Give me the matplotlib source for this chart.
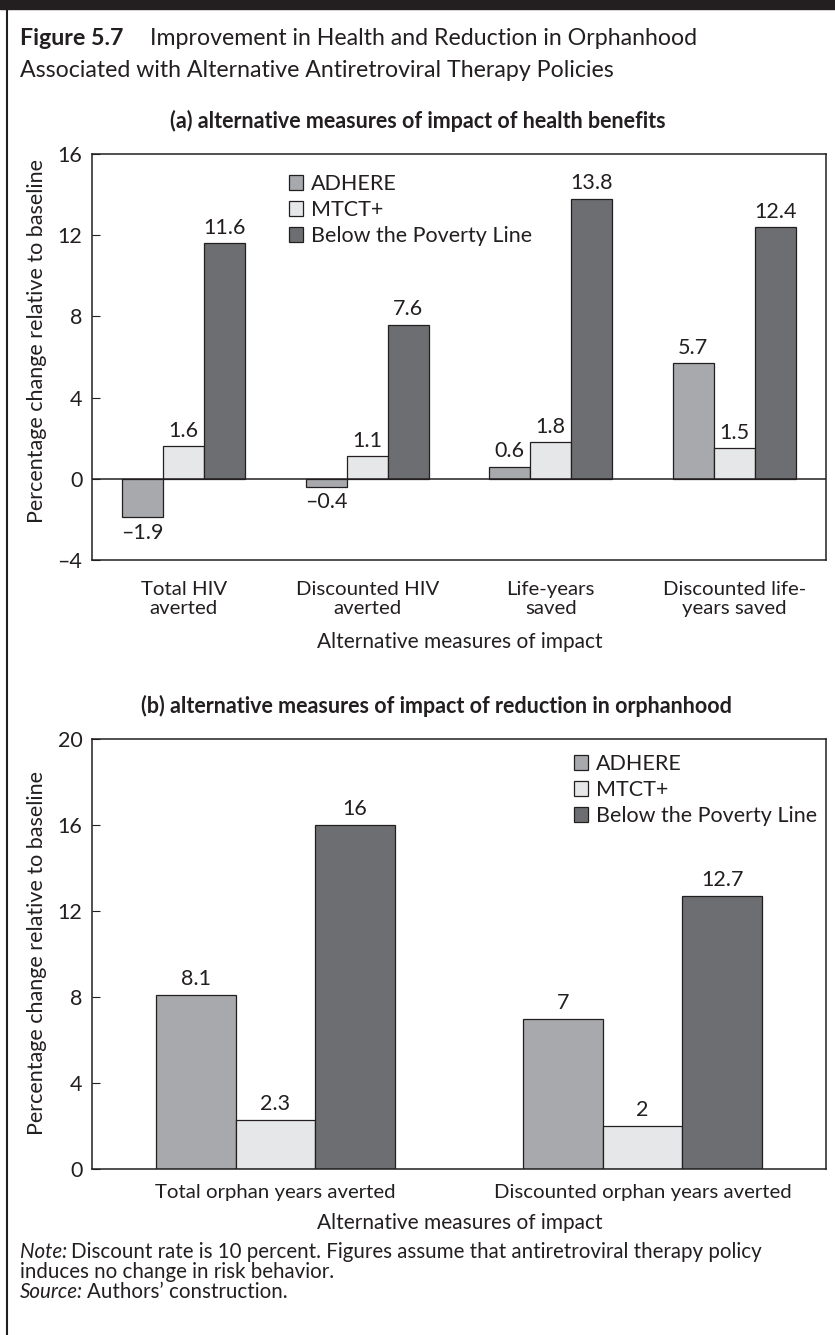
import numpy as np
import matplotlib
matplotlib.use("Agg")
import matplotlib.pyplot as plt
from matplotlib.patches import Rectangle
from matplotlib.lines import Line2D

plt.rcParams['font.family'] = ['Lato', 'DejaVu Sans']

series = ["ADHERE", "MTCT+", "Below the Poverty Line"]
colors = ["#a7a9ac", "#e6e7e8", "#6d6e71"]
ink = "#231f20"

# panel (a): health benefits
cats_a = ["Total HIV\naverted", "Discounted HIV\naverted", "Life-years\nsaved",
          "Discounted life-\nyears saved"]
adhere_a = [-1.9, -0.4, 0.6, 5.7]
mtct_a = [1.6, 1.1, 1.8, 1.5]
poverty_a = [11.6, 7.6, 13.8, 12.4]
yticks_a = [-4, 0, 4, 8, 12, 16]

# panel (b): reduction in orphanhood
cats_b = ["Total orphan years averted", "Discounted orphan years averted"]
adhere_b = [8.1, 7]
mtct_b = [2.3, 2]
poverty_b = [16, 12.7]
yticks_b = [0, 4, 8, 12, 16, 20]

W, H = 835, 1335
fig = plt.figure(figsize=(W / 100, H / 100), dpi=100)


def fx(x):
    return x / W


def fy(y):
    return 1 - y / H


def fmt(v):
    return ("%g" % v).replace("-", "\u2013")


def draw_panel(ax, cats, vals, yticks, width, leg_anchor, xpad):
    x = np.arange(len(cats))
    for i, v in enumerate(vals):
        bars = ax.bar(x + (i - 1) * width, v, width, color=colors[i], edgecolor=ink,
                      linewidth=0.9, label=series[i], zorder=2)
        ax.bar_label(bars, labels=[fmt(b) for b in v], padding=4, fontsize=15.5, color=ink)
    ax.set_xlim(-0.5, len(cats) - 0.5)
    ax.set_ylim(yticks[0], yticks[-1])
    ax.set_yticks(yticks)
    ax.set_yticklabels([fmt(t) for t in yticks])
    ax.set_xticks(x)
    ax.set_xticklabels(cats, linespacing=1.15)
    ax.tick_params(axis='y', direction='in', length=6, color=ink, labelsize=15.5,
                   labelcolor=ink, pad=7)
    ax.tick_params(axis='x', length=0, labelsize=14.7, labelcolor=ink, pad=xpad)
    for s in ax.spines.values():
        s.set_color(ink)
        s.set_linewidth(1.1)
    leg = ax.legend(loc='upper left', bbox_to_anchor=leg_anchor, frameon=False,
                    fontsize=15.5, handlelength=0.65, handleheight=0.65,
                    handletextpad=0.35, labelspacing=0.28, borderaxespad=0,
                    borderpad=0)
    for t in leg.get_texts():
        t.set_color(ink)


# panel (a)
ax1 = fig.add_axes([fx(92), fy(560), (826 - 92) / W, (560 - 154) / H])
draw_panel(ax1, cats_a, [adhere_a, mtct_a, poverty_a], yticks_a, 0.223,
           (0.269, 0.951), 15)
ax1.axhline(0, color=ink, linewidth=1.1, zorder=3)

# panel (b)
ax2 = fig.add_axes([fx(92), fy(1169), (826 - 92) / W, (1169 - 739) / H])
draw_panel(ax2, cats_b, [adhere_b, mtct_b, poverty_b], yticks_b, 0.217,
           (0.657, 0.965), 11)

# axis titles
fig.text(fx(460), fy(642), "Alternative measures of impact", ha='center', va='center',
         fontsize=15, color=ink)
fig.text(fx(460), fy(1223), "Alternative measures of impact", ha='center', va='center',
         fontsize=15, color=ink)
fig.text(fx(37), fy(341), "Percentage change relative to baseline", rotation=90,
         ha='center', va='center', fontsize=15.5, color=ink)
fig.text(fx(37), fy(953), "Percentage change relative to baseline", rotation=90,
         ha='center', va='center', fontsize=15.5, color=ink)

# panel titles
fig.text(fx(418), fy(128), "(a) alternative measures of impact of health benefits",
         ha='center', va='baseline', fontsize=15.5, fontweight='bold', color=ink)
fig.text(fx(436), fy(713), "(b) alternative measures of impact of reduction in orphanhood",
         ha='center', va='baseline', fontsize=15.5, fontweight='bold', color=ink)

# figure title
fig.text(fx(20), fy(45), "Figure 5.7", fontsize=16.7, fontweight='bold', color=ink,
         va='baseline')
fig.text(fx(150), fy(45), "Improvement in Health and Reduction in Orphanhood",
         fontsize=16.7, color=ink, va='baseline')
fig.text(fx(20), fy(77), "Associated with Alternative Antiretroviral Therapy Policies",
         fontsize=16.7, color=ink, va='baseline')

# notes, italic lead-in followed by regular text
renderer = fig.canvas.get_renderer()
note_size = 14.8


def note_line(y, lead, rest):
    t = fig.text(fx(20), fy(y), lead, fontsize=note_size, style='italic', color=ink,
                 va='baseline')
    bb = t.get_window_extent(renderer)
    fig.text(bb.x1 / W + 4 / W, fy(y), rest, fontsize=note_size, color=ink, va='baseline')


note_line(1258, "Note:", "Discount rate is 10 percent. Figures assume that antiretroviral therapy policy")
fig.text(fx(20), fy(1278), "induces no change in risk behavior.", fontsize=note_size,
         color=ink, va='baseline')
note_line(1298, "Source:", "Authors\u2019 construction.")

# frame: heavy rule on top, thin rule on the left
fig.add_artist(Rectangle((0, fy(9)), 1, 9 / H, transform=fig.transFigure,
                         color=ink, zorder=5))
fig.add_artist(Line2D([fx(7), fx(7)], [0, fy(9)], transform=fig.transFigure,
                      color=ink, linewidth=1.5))

fig.savefig("out.png", dpi=100)
